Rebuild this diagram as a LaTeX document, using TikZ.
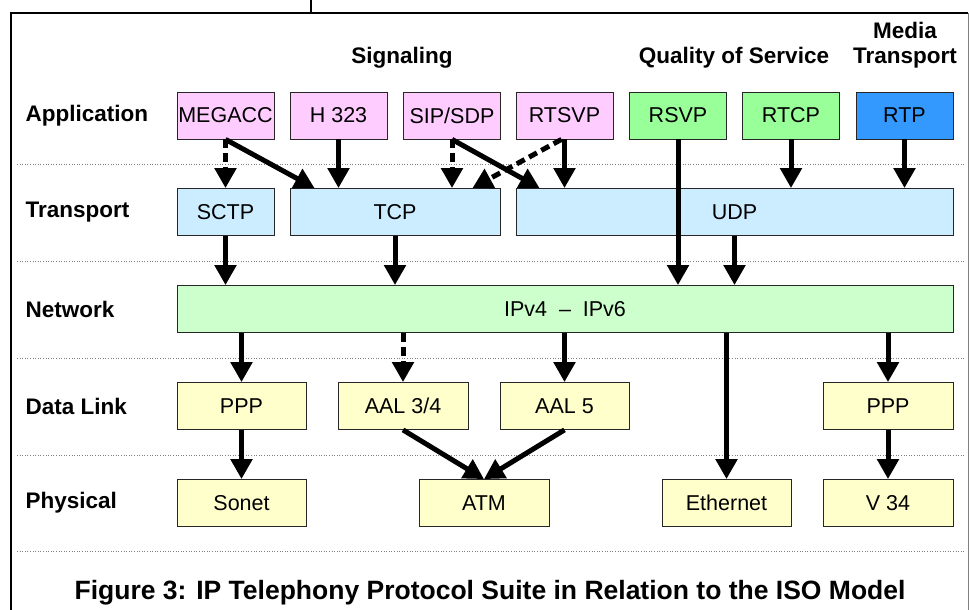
\documentclass[tikz,border=0pt]{standalone}
\usepackage{fontspec}
\setmainfont{Liberation Sans}
\usetikzlibrary{arrows.meta}

\definecolor{sigpink}{HTML}{FFCCFF}
\definecolor{qosgreen}{HTML}{99FF99}
\definecolor{rtpblue}{HTML}{3399FF}
\definecolor{transblue}{HTML}{CCECFF}
\definecolor{netgreen}{HTML}{CCFFCC}
\definecolor{linkyellow}{HTML}{FFFFCC}

\begin{document}
\begin{tikzpicture}[x=1pt, y=-1pt,
  box/.style = {shape=rectangle, draw=black!85, line width=0.8pt,
    minimum height=47pt, inner sep=0pt, font=\fontsize{21.5}{25}\selectfont},
  lbl/.style = {font=\bfseries\fontsize{22.5}{25}\selectfont, align=center},
  arr/.style = {line width=5pt, -{Triangle[width=21pt,length=20pt]}},
  dsh/.style = {arr, dash pattern=on 9pt off 5pt}]
    \tikzstyle{app}=[box, minimum width=97pt, fill=sigpink]
    \tikzstyle{trans}=[box, fill=transblue]
    \tikzstyle{link}=[box, fill=linkyellow]
  \useasboundingbox (0,0) rectangle (969,610);
  % frame and layer lines
  \draw[line width=1.5pt] (311,0) -- (311,13);
  \draw[line width=1.5pt] (11,610) -- (11,13) -- (968,13);
  \draw[gray, line width=0.8pt] (968,13) -- (968,610);
  \foreach \y in {164,261,358,455,551}
    \draw[gray, dotted, line width=0.6pt] (17,\y) -- (965,\y);
  % headings
  \node[lbl] (hsig) at (402,58) {Signaling};
  \node[lbl] (hqos) at (734,58) {Quality of Service};
  \node[lbl] (hmed) at (905,45) {Media\\Transport};
  \node[lbl, anchor=west] (lapp) at (22,115.5) {Application};
  \node[lbl, anchor=west] (ltrans) at (22,212) {Transport};
  \node[lbl, anchor=west] (lnet) at (22,309) {Network};
  \node[lbl, anchor=west] (llink) at (22,406) {Data Link};
  \node[lbl, anchor=west] (lphys) at (22,503) {Physical};
  % application
  \node[app] (meg) at (225.5,115.5) {MEGACC};
  \node[app] (h323) at (338.5,115.5) {H 323};
  \node[app] (sip) at (452,115.5) {SIP/SDP};
  \node[app] (rtsvp) at (564.5,115.5) {RTSVP};
  \node[app, fill=qosgreen] (rsvp) at (678,115.5) {RSVP};
  \node[app, fill=qosgreen] (rtcp) at (791,115.5) {RTCP};
  \node[app, fill=rtpblue] (rtp) at (904.5,115.5) {RTP};
  % transport
  \node[trans, minimum width=97pt] (sctp) at (225.5,212) {SCTP};
  \node[trans, minimum width=210pt] (tcp) at (395,212) {TCP};
  \node[trans, minimum width=437pt] (udp) at (734.5,212) {UDP};
  % network
  \node[box, minimum width=776pt, fill=netgreen] (net) at (565,309) {IPv4 \ -- \ IPv6};
  % data link
  \node[link, minimum width=129pt] (ppp) at (241.5,406) {PPP};
  \node[link, minimum width=130pt] (aal34) at (403,406) {AAL 3/4};
  \node[link, minimum width=129pt] (aal5) at (564.5,406) {AAL 5};
  \node[link, minimum width=130pt] (pppb) at (888,406) {PPP};
  % physical
  \node[link, minimum width=129pt] (sonet) at (241.5,503) {Sonet};
  \node[link, minimum width=130pt] (atm) at (484,503) {ATM};
  \node[link, minimum width=129pt] (eth) at (726.5,503) {Ethernet};
  \node[link, minimum width=130pt] (v34) at (888,503) {V 34};
  % arrows
  \draw[dsh] (meg.south) -- (sctp.north);
  \draw[arr] (meg.south) -- ([xshift=25pt]tcp.north west);
  \draw[arr] (h323.south) -- (h323.south |- tcp.north);
  \draw[dsh] (sip.south) -- (sip.south |- tcp.north);
  \draw[arr] (sip.south) -- ([xshift=24pt]udp.north west);
  \draw[dsh] ([xshift=-3pt]rtsvp.south) -- ([xshift=-28pt]tcp.north east);
  \draw[arr] (rtsvp.south) -- (rtsvp.south |- udp.north);
  \draw[arr] (rsvp.south) -- (rsvp.south |- net.north);
  \draw[arr] (rtcp.south) -- (rtcp.south |- udp.north);
  \draw[arr] (rtp.south) -- (rtp.south |- udp.north);
  \draw[arr] (sctp.south) -- (sctp.south |- net.north);
  \draw[arr] (tcp.south) -- (tcp.south |- net.north);
  \draw[arr] (udp.south) -- (udp.south |- net.north);
  \draw[arr] (ppp.north |- net.south) -- (ppp.north);
  \draw[dsh] (aal34.north |- net.south) -- (aal34.north);
  \draw[arr] (aal5.north |- net.south) -- (aal5.north);
  \draw[arr] (eth.north |- net.south) -- (eth.north);
  \draw[arr] (pppb.north |- net.south) -- (pppb.north);
  \draw[arr] (ppp.south) -- (sonet.north);
  \draw[arr] (aal34.south) -- (atm.north);
  \draw[arr] (aal5.south) -- (atm.north);
  \draw[arr] (pppb.south) -- (v34.north);
  % caption
  \node[font=\bfseries\fontsize{26.5}{30}\selectfont] (cap) at (490,593)
    {Figure 3: IP Telephony Protocol Suite in Relation to the ISO Model};
\end{tikzpicture}
\end{document}
